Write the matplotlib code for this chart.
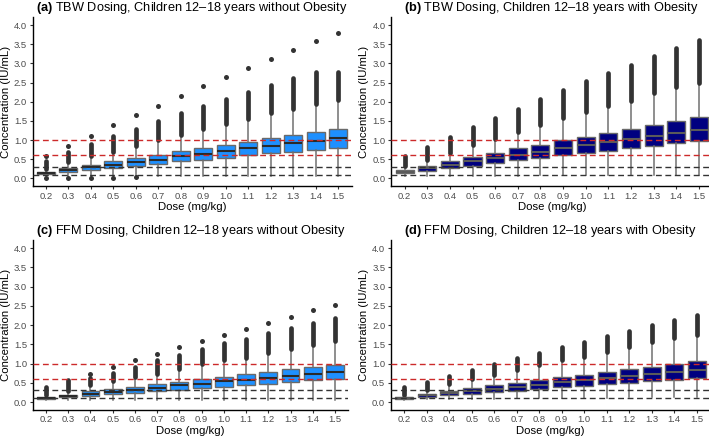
import matplotlib
matplotlib.use("Agg")
import matplotlib.pyplot as plt
import numpy as np

nan = np.nan
doses = ["0.2", "0.3", "0.4", "0.5", "0.6", "0.7", "0.8", "0.9", "1.0", "1.1", "1.2", "1.3", "1.4", "1.5"]
yticks = [0.0, 0.5, 1.0, 1.5, 2.0, 2.5, 3.0, 3.5, 4.0]
target_red = [1.0, 0.6]
target_black = [0.3, 0.1]

# (a) TBW dosing, without obesity
a_whislo = [0.07, 0.06, 0.06, 0.06, 0.06, 0.06, 0.06, 0.06, 0.06, 0.06, 0.06, 0.07, 0.07, 0.07]
a_q1 = [0.11, 0.16, 0.22, 0.27, 0.32, 0.38, 0.44, 0.49, 0.54, 0.60, 0.65, 0.70, 0.75, 0.80]
a_med = [0.14, 0.22, 0.29, 0.36, 0.43, 0.49, 0.57, 0.64, 0.71, 0.78, 0.85, 0.91, 0.98, 1.05]
a_q3 = [0.17, 0.27, 0.36, 0.44, 0.53, 0.62, 0.71, 0.79, 0.88, 0.96, 1.04, 1.12, 1.21, 1.30]
a_whishi = [0.24, 0.42, 0.56, 0.69, 0.84, 0.98, 1.12, 1.26, 1.39, 1.52, 1.66, 1.78, 1.90, 2.02]
a_out_lo = [0.25, 0.43, 0.57, 0.70, 0.85, 1.00, 1.14, 1.28, 1.42, 1.55, 1.70, 1.82, 1.93, 2.05]
a_out_hi = [0.44, 0.70, 0.90, 1.10, 1.30, 1.50, 1.70, 1.88, 2.07, 2.25, 2.43, 2.62, 2.78, 2.78]
a_out_top = [0.57, 0.84, 1.11, 1.38, 1.64, 1.90, 2.15, 2.40, 2.65, 2.88, 3.12, 3.35, 3.58, 3.80]
a_out_low = [0.00, 0.00, 0.00, 0.00, 0.03, nan, nan, nan, nan, nan, nan, nan, nan, nan]

# (b) TBW dosing, with obesity
b_whislo = [0.05, 0.06, 0.06, 0.07, 0.07, 0.07, 0.08, 0.08, 0.08, 0.09, 0.09, 0.09, 0.10, 0.10]
b_q1 = [0.13, 0.20, 0.26, 0.33, 0.40, 0.47, 0.54, 0.60, 0.66, 0.72, 0.79, 0.85, 0.91, 0.98]
b_med = [0.17, 0.26, 0.35, 0.44, 0.53, 0.62, 0.70, 0.78, 0.86, 0.95, 1.02, 1.10, 1.18, 1.26]
b_q3 = [0.21, 0.33, 0.45, 0.56, 0.67, 0.78, 0.87, 0.99, 1.09, 1.19, 1.29, 1.39, 1.49, 1.59]
b_whishi = [0.30, 0.46, 0.64, 0.84, 1.00, 1.20, 1.38, 1.55, 1.70, 1.88, 2.00, 2.20, 2.35, 2.48]
b_out_lo = [0.31, 0.47, 0.66, 0.86, 1.02, 1.22, 1.40, 1.58, 1.73, 1.90, 2.03, 2.23, 2.38, 2.50]
b_out_hi = [0.57, 0.82, 1.08, 1.34, 1.58, 1.82, 2.06, 2.30, 2.53, 2.75, 2.97, 3.19, 3.40, 3.62]
b_out_top = [nan] * 14
b_out_low = [nan] * 14

# (c) FFM dosing, without obesity
c_whislo = [0.04, 0.05, 0.05, 0.05, 0.05, 0.05, 0.05, 0.05, 0.05, 0.05, 0.05, 0.05, 0.05, 0.05]
c_q1 = [0.08, 0.12, 0.16, 0.20, 0.24, 0.28, 0.32, 0.36, 0.40, 0.44, 0.48, 0.52, 0.56, 0.60]
c_med = [0.10, 0.15, 0.21, 0.27, 0.32, 0.37, 0.43, 0.47, 0.54, 0.58, 0.63, 0.68, 0.73, 0.78]
c_q3 = [0.12, 0.19, 0.28, 0.33, 0.40, 0.46, 0.53, 0.60, 0.66, 0.72, 0.79, 0.85, 0.91, 0.97]
c_whishi = [0.17, 0.28, 0.42, 0.52, 0.62, 0.72, 0.82, 0.95, 1.03, 1.13, 1.25, 1.35, 1.45, 1.55]
c_out_lo = [0.18, 0.29, 0.44, 0.54, 0.64, 0.74, 0.86, 0.98, 1.08, 1.15, 1.28, 1.38, 1.48, 1.58]
c_out_hi = [0.38, 0.57, 0.63, 0.75, 0.92, 1.08, 1.22, 1.37, 1.52, 1.63, 1.78, 1.92, 2.05, 2.17]
c_out_top = [nan, nan, 0.73, 0.90, 1.08, 1.25, 1.42, 1.58, 1.75, 1.90, 2.06, 2.22, 2.38, 2.52]
c_out_low = [nan] * 14

# (d) FFM dosing, with obesity
d_whislo = [0.05, 0.07, 0.08, 0.09, 0.09, 0.10, 0.10, 0.10, 0.11, 0.11, 0.12, 0.12, 0.13, 0.14]
d_q1 = [0.09, 0.13, 0.17, 0.21, 0.25, 0.29, 0.33, 0.38, 0.42, 0.46, 0.50, 0.54, 0.58, 0.62]
d_med = [0.10, 0.17, 0.23, 0.28, 0.34, 0.40, 0.45, 0.51, 0.57, 0.62, 0.68, 0.72, 0.78, 0.84]
d_q3 = [0.12, 0.21, 0.29, 0.36, 0.43, 0.50, 0.57, 0.65, 0.71, 0.78, 0.86, 0.92, 0.99, 1.06]
d_whishi = [0.17, 0.30, 0.45, 0.57, 0.67, 0.80, 0.92, 1.05, 1.15, 1.27, 1.40, 1.50, 1.60, 1.72]
d_out_lo = [0.18, 0.32, 0.47, 0.60, 0.70, 0.83, 0.95, 1.08, 1.18, 1.30, 1.42, 1.55, 1.65, 1.75]
d_out_hi = [0.38, 0.52, 0.67, 0.83, 0.99, 1.13, 1.28, 1.43, 1.57, 1.71, 1.85, 1.99, 2.13, 2.27]
d_out_top = [nan] * 14
d_out_low = [nan] * 14

titles = [
    ("(a)", "TBW Dosing, Children 12\u201318 years without Obesity"),
    ("(b)", "TBW Dosing, Children 12\u201318 years with Obesity"),
    ("(c)", "FFM Dosing, Children 12\u201318 years without Obesity"),
    ("(d)", "FFM Dosing, Children 12\u201318 years with Obesity"),
]

plt.rcParams['font.family'] = ['Liberation Sans', 'DejaVu Sans']
plt.rcParams['mathtext.fontset'] = 'custom'
plt.rcParams['mathtext.rm'] = 'Liberation Sans'
plt.rcParams['mathtext.bf'] = 'Liberation Sans:bold'

W, H = 709, 436
fig = plt.figure(figsize=(W / 100, H / 100), dpi=100)


def add_ax(l, r, b, t):
    return fig.add_axes([l / W, 1 - b / H, (r - l) / W, (b - t) / H])


axes = [
    add_ax(32.5, 351.5, 186.0, 17.4),
    add_ax(391.0, 712.5, 186.0, 17.4),
    add_ax(32.7, 348.3, 409.7, 240.3),
    add_ax(390.8, 710.2, 409.7, 240.3),
]

panels = [
    (a_whislo, a_q1, a_med, a_q3, a_whishi, a_out_lo, a_out_hi, a_out_top, a_out_low, '#1E90FF', '#2a2a2a'),
    (b_whislo, b_q1, b_med, b_q3, b_whishi, b_out_lo, b_out_hi, b_out_top, b_out_low, '#000080', '#5a5a5a'),
    (c_whislo, c_q1, c_med, c_q3, c_whishi, c_out_lo, c_out_hi, c_out_top, c_out_low, '#1E90FF', '#2a2a2a'),
    (d_whislo, d_q1, d_med, d_q3, d_whishi, d_out_lo, d_out_hi, d_out_top, d_out_low, '#000080', '#5a5a5a'),
]

pos = np.arange(1, len(doses) + 1)
dash = (0, (4.2, 2.6))

for ax, p, (lett, ttl) in zip(axes, panels, titles):
    wlo, q1, med, q3, whi, olo, ohi, otop, olow, fill, medc = p
    stats = []
    for i in range(len(doses)):
        fl = [v for v in (otop[i], olow[i]) if not np.isnan(v)]
        stats.append(dict(med=med[i], q1=q1[i], q3=q3[i], whislo=wlo[i], whishi=whi[i], fliers=fl))
    ax.bxp(stats, positions=pos, widths=0.8, patch_artist=True, showcaps=False,
           boxprops=dict(facecolor=fill, edgecolor='#6a6a6a', linewidth=1.0),
           medianprops=dict(color=medc, linewidth=1.5),
           whiskerprops=dict(color='#707070', linewidth=1.1),
           flierprops=dict(marker='o', markersize=3.6, markerfacecolor='#333333',
                           markeredgecolor='none'),
           manage_ticks=False)
    lc = ax.vlines(pos, olo, ohi, colors='#333333', linewidth=3.4)
    lc.set_capstyle('round')

    for v in target_red:
        ax.axhline(v, color='#cc2a2a', lw=1.0, ls=dash, zorder=6)
    for v in target_black:
        ax.axhline(v, color='#333333', lw=1.0, ls=dash, zorder=6)

    ax.set_xlim(0.4, len(doses) + 0.6)
    ax.set_ylim(-0.2, 4.2)
    ax.set_xticks(pos)
    ax.set_xticklabels(doses)
    ax.set_yticks(yticks)
    ax.set_yticklabels([f"{v:.1f}" for v in yticks])
    for s in ['top', 'right']:
        ax.spines[s].set_visible(False)
    for s in ['left', 'bottom']:
        ax.spines[s].set_linewidth(1.0)
        ax.spines[s].set_color('black')
    ax.tick_params(length=2.5, width=0.8, color='#333333', labelsize=6.8,
                   labelcolor='#4D4D4D', pad=1.5)
    ax.set_xlabel('Dose (mg/kg)', fontsize=8.2, labelpad=1.3)
    ax.set_ylabel('Concentration (IU/mL)', fontsize=8.2, labelpad=2)
    ax.set_title(r'$\mathbf{' + lett + r'}$ ' + ttl, fontsize=9.2, pad=4.8)

fig.savefig('out.png', dpi=100)
